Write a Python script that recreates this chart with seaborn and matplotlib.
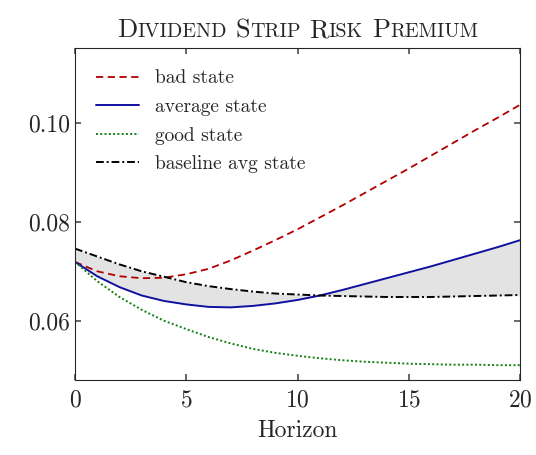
import matplotlib
matplotlib.use("Agg")
import matplotlib.pyplot as plt
import seaborn as sns
import pandas as pd

horizon = list(range(21))
bad = [.0719, .0700, .0690, .0686, .0687, .0694, .0705, .0722, .0742, .0763, .0785,
       .0809, .0833, .0858, .0883, .0908, .0934, .0960, .0986, .1011, .1037]
avg = [.0719, .0690, .0668, .0651, .0640, .0633, .0628, .0627, .0630, .0635, .0642,
       .0651, .0662, .0674, .0686, .0698, .0710, .0723, .0736, .0749, .0763]
good = [.0719, .0680, .0648, .0622, .0600, .0583, .0567, .0554, .0543, .0535, .0529,
        .0524, .0520, .0517, .0515, .0513, .0512, .0511, .0511, .0510, .0510]
base = [.0746, .0730, .0714, .0700, .0689, .0678, .0670, .0664, .0659, .0655, .0653,
        .0651, .0650, .0649, .0648, .0648, .0648, .0649, .0650, .0651, .0652]
title = "Dividend Strip Risk Premium"

sns.set_theme(style="ticks")
plt.rcParams['font.family'] = ['cmr10', 'DejaVu Serif']
plt.rcParams['axes.formatter.use_mathtext'] = True
plt.rcParams['mathtext.fontset'] = 'cm'

df = pd.DataFrame({"h": horizon, "bad": bad, "avg": avg, "good": good, "base": base})
fig = plt.figure(figsize=(5.36, 4.55), dpi=100)
ax = fig.add_axes([75/536, 1-380/455, 445/536, 332/455])
ax.fill_between(df.h, df.avg, df.base, color="#e3e3e3", lw=0)
sns.lineplot(data=df, x="h", y="bad", ax=ax, color="#b00000", ls=(0, (4, 2.5)), lw=1.3, label="bad state")
sns.lineplot(data=df, x="h", y="avg", ax=ax, color="#1010a0", lw=1.4, label="average state")
sns.lineplot(data=df, x="h", y="good", ax=ax, color="#108010", ls=(0, (1, 1.2)), lw=1.4, label="good state")
sns.lineplot(data=df, x="h", y="base", ax=ax, color="black", ls=(0, (4, 1.5, 1, 1.5)), lw=1.4, label="baseline avg state")
ax.set_xlim(0, 20)
ax.set_ylim(0.048, 0.1152)
ax.set_xticks([0, 5, 10, 15, 20])
ax.set_yticks([0.06, 0.08, 0.10])
ax.set_yticklabels(["0.06", "0.08", "0.10"])
ax.tick_params(direction="in", top=True, right=True, labelsize=17, length=4, color="#555555")
ax.tick_params(axis="x", pad=7)
for s in ax.spines.values():
    s.set_linewidth(0.8)
ax.set_xlabel("Horizon", fontsize=17, labelpad=6)
ax.set_ylabel("")
ax.legend(loc="upper left", frameon=False, fontsize=14, handlelength=2.2,
          labelspacing=0.55, borderaxespad=0.5, borderpad=0.6)

fig.canvas.draw()
r = fig.canvas.get_renderer()
pieces = []
for word in title.split(" "):
    pieces.append((word[0], 19))
    pieces.append((word[1:].upper(), 14.5))
    pieces.append((" ", 19))
pieces = pieces[:-1]
texts = []
for s, fs in pieces:
    t = fig.text(0, 0.918, s, fontsize=fs, ha="left", va="baseline")
    texts.append(t)
widths = []
for (s, fs), t in zip(pieces, texts):
    if s == " ":
        w = fs * 0.33 * 100 / 72
    else:
        w = t.get_window_extent(r).width
    widths.append(w)
total = sum(widths)
xp = (75 + 520) / 2 - total / 2
for t, w in zip(texts, widths):
    t.set_x(xp / 536)
    xp += w
fig.savefig("out.png", dpi=100)
